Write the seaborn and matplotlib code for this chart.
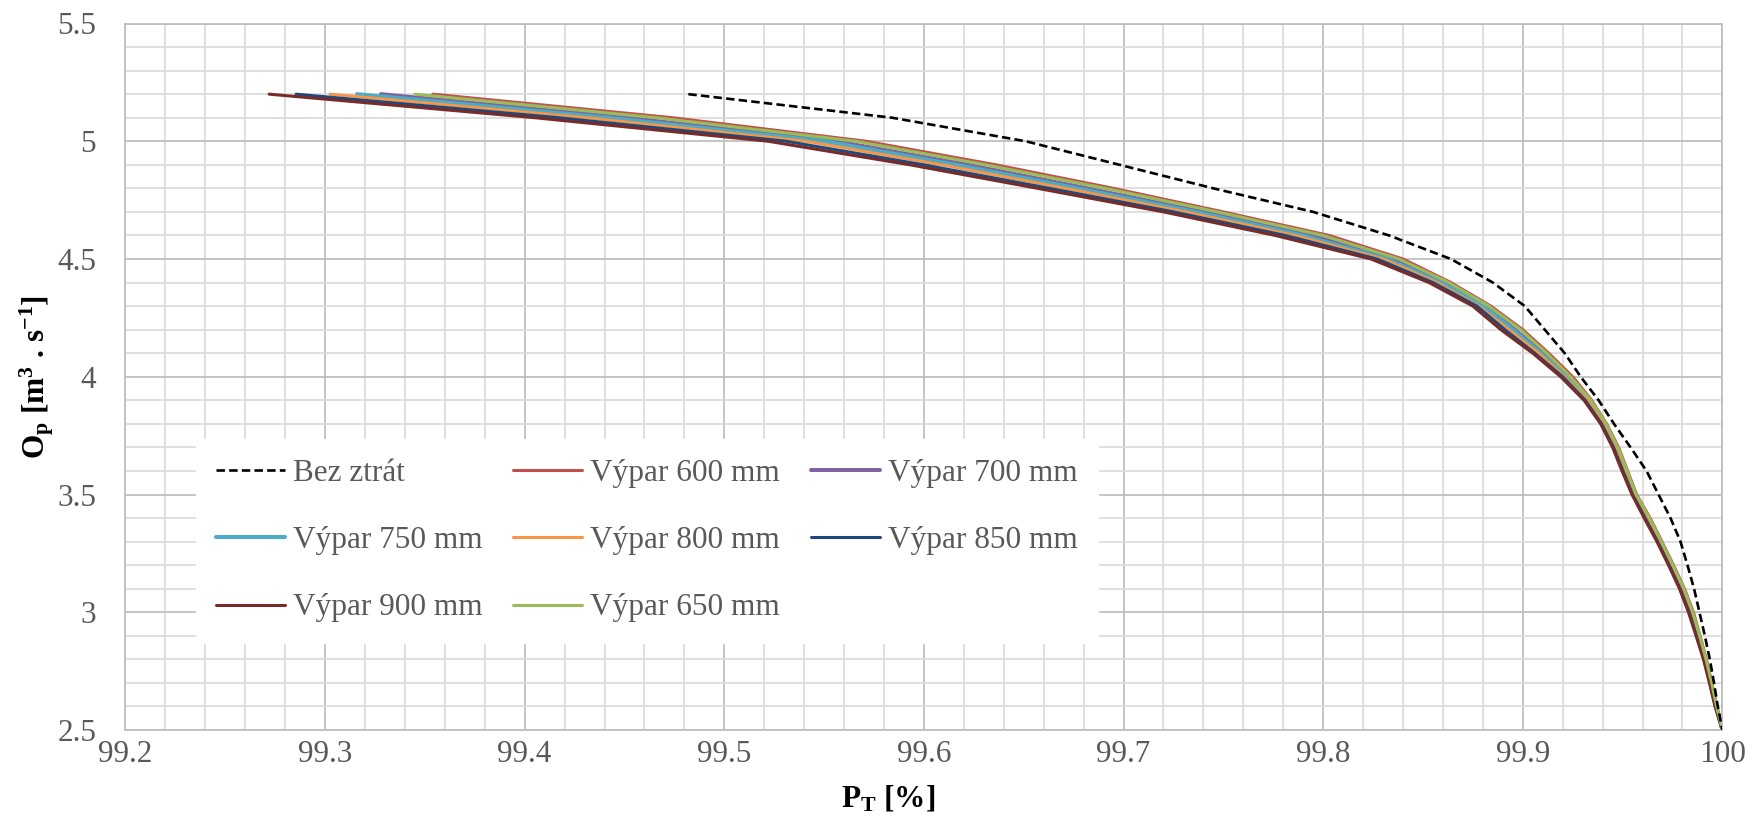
import numpy as np
import pandas as pd
import matplotlib
matplotlib.use("Agg")
import matplotlib.pyplot as plt
from matplotlib.ticker import MultipleLocator, FixedLocator, FixedFormatter
import seaborn as sns

# ---------------- data ----------------
o_levels = [5.2, 5.1, 5.0, 4.9, 4.8, 4.7, 4.6, 4.5, 4.4, 4.3, 4.2, 4.1, 4.0, 3.9,
            3.8, 3.7, 3.6, 3.5, 3.4, 3.3, 3.2, 3.1, 3.0, 2.9, 2.8, 2.7, 2.6, 2.5]

pt_bez = [99.482, 99.584, 99.651, 99.698, 99.745, 99.795, 99.833, 99.864, 99.885, 99.901, 99.911, 99.921, 99.929, 99.938,
          99.9457, 99.954, 99.962, 99.968, 99.974, 99.979, 99.9825, 99.9858, 99.9885, 99.9912, 99.9937, 99.9958, 99.9977, 100.0]
pt_600 = [99.354, 99.474, 99.571, 99.636, 99.695, 99.750, 99.803, 99.840, 99.864, 99.884, 99.900, 99.913, 99.925, 99.9345,
          99.942, 99.948, 99.9525, 99.957, 99.9638, 99.9697, 99.9755, 99.981, 99.9855, 99.9888, 99.992, 99.9947, 99.9972, 100.0]
pt_650 = [99.345, 99.466, 99.566, 99.631, 99.691, 99.747, 99.800, 99.838, 99.863, 99.883, 99.899, 99.912, 99.924, 99.9341,
          99.9417, 99.9477, 99.9522, 99.9567, 99.9635, 99.9694, 99.9752, 99.9807, 99.9852, 99.9886, 99.9918, 99.9946, 99.9971, 100.0]
pt_700 = [99.328, 99.451, 99.556, 99.622, 99.682, 99.740, 99.794, 99.835, 99.860, 99.881, 99.896, 99.910, 99.923, 99.9332,
          99.941, 99.947, 99.9516, 99.9562, 99.9628, 99.9689, 99.9747, 99.9802, 99.9847, 99.9881, 99.9915, 99.9943, 99.9969, 100.0]
pt_750 = [99.316, 99.442, 99.550, 99.616, 99.677, 99.736, 99.790, 99.832, 99.859, 99.880, 99.895, 99.909, 99.922, 99.9327,
          99.9406, 99.9466, 99.9512, 99.9559, 99.9624, 99.9685, 99.9743, 99.9798, 99.9843, 99.9879, 99.9913, 99.9941, 99.9968, 100.0]
pt_800 = [99.3025, 99.431, 99.541, 99.609, 99.671, 99.731, 99.786, 99.830, 99.857, 99.878, 99.893, 99.908, 99.921, 99.9321,
          99.9401, 99.9461, 99.9507, 99.9556, 99.9619, 99.9681, 99.9739, 99.9794, 99.9839, 99.9875, 99.9911, 99.9939, 99.9966, 100.0]
pt_850 = [99.2855, 99.417, 99.531, 99.600, 99.663, 99.725, 99.781, 99.827, 99.855, 99.877, 99.891, 99.906, 99.920, 99.9313,
          99.9395, 99.9455, 99.9502, 99.9551, 99.9613, 99.9676, 99.9734, 99.9789, 99.9834, 99.9871, 99.9908, 99.9937, 99.9965, 100.0]
pt_900 = [99.272, 99.405, 99.522, 99.593, 99.657, 99.720, 99.776, 99.824, 99.853, 99.875, 99.889, 99.905, 99.919, 99.9307,
          99.939, 99.945, 99.9497, 99.9547, 99.9608, 99.9672, 99.973, 99.9785, 99.983, 99.9868, 99.9905, 99.9935, 99.9963, 100.0]

series_names = ["Bez ztrát", "Výpar 600 mm", "Výpar 700 mm", "Výpar 750 mm",
                "Výpar 800 mm", "Výpar 850 mm", "Výpar 900 mm", "Výpar 650 mm"]
series_values = [pt_bez, pt_600, pt_700, pt_750, pt_800, pt_850, pt_900, pt_650]

x_ticks = [99.2, 99.3, 99.4, 99.5, 99.6, 99.7, 99.8, 99.9, 100.0]
x_tick_labels = ["99.2", "99.3", "99.4", "99.5", "99.6", "99.7", "99.8", "99.9", "100"]
y_ticks = [2.5, 3.0, 3.5, 4.0, 4.5, 5.0, 5.5]
y_tick_labels = ["2.5", "3", "3.5", "4", "4.5", "5", "5.5"]

# ---------------- styles ----------------
colors = {"Bez ztrát": "black", "Výpar 600 mm": "#C0504D", "Výpar 700 mm": "#8064A2",
          "Výpar 750 mm": "#4BACC6", "Výpar 800 mm": "#F79646", "Výpar 850 mm": "#1F497D",
          "Výpar 900 mm": "#772C2A", "Výpar 650 mm": "#9BBB59"}
widths = {"Bez ztrát": 1.9, "Výpar 600 mm": 2.2, "Výpar 700 mm": 2.9, "Výpar 750 mm": 2.9,
          "Výpar 800 mm": 2.2, "Výpar 850 mm": 2.2, "Výpar 900 mm": 2.2, "Výpar 650 mm": 2.2}

sns.set_style("white")
plt.rcParams["font.family"] = ["Liberation Serif", "DejaVu Serif"]
plt.rcParams["mathtext.fontset"] = "custom"
plt.rcParams["mathtext.rm"] = "Liberation Serif:bold"
plt.rcParams["mathtext.it"] = "Liberation Serif:bold"
plt.rcParams["mathtext.bf"] = "Liberation Serif:bold"

fig = plt.figure(figsize=(17.56, 8.19), dpi=100)
ax = fig.add_axes([125.4 / 1756, 1 - 730 / 819, 1597 / 1756, 706.5 / 819])

for name, vals in zip(series_names, series_values):
    df = pd.DataFrame({"PT": vals, "Op": o_levels})
    ls = "--" if name == "Bez ztrát" else "-"
    sns.lineplot(data=df, x="PT", y="Op", ax=ax, color=colors[name], lw=widths[name],
                 label=name, sort=False, estimator=None, linestyle=ls)
    ax.lines[-1].set_solid_joinstyle("round")
    if name == "Bez ztrát":
        ax.lines[-1].set_dashes((3.2, 1.6))
        ax.lines[-1].set_zorder(5)

ax.set_xlim(99.2, 100.0)
ax.set_ylim(2.5, 5.5)
ax.xaxis.set_major_locator(FixedLocator(x_ticks))
ax.xaxis.set_major_formatter(FixedFormatter(x_tick_labels))
ax.yaxis.set_major_locator(FixedLocator(y_ticks))
ax.yaxis.set_major_formatter(FixedFormatter(y_tick_labels))
ax.xaxis.set_minor_locator(MultipleLocator(0.02))
ax.yaxis.set_minor_locator(MultipleLocator(0.1))

ax.grid(which="major", color="#BFBFBF", lw=1.3)
ax.grid(which="minor", color="#D9D9D9", lw=1.2)
ax.set_axisbelow(True)
for s in ax.spines.values():
    s.set_color("#BFBFBF")
    s.set_linewidth(1.3)

ax.tick_params(axis="both", which="both", length=0, labelsize=22.5, colors="#595959")
ax.tick_params(axis="y", pad=21)
ax.tick_params(axis="x", pad=7)

ax.set_xlabel(r"P$_{\mathrm{T}}$ [%]", fontsize=22.5, fontweight="bold", color="black")
ax.set_ylabel(r"O$_{\mathrm{p}}$ [m$^{3}$ . s$^{\mathrm{-1}}$]", fontsize=22.5, fontweight="bold", color="black")
ax.xaxis.set_label_coords(0.4775, -0.076)
ax.yaxis.set_label_coords(-0.0435, 0.5)

handles, labels = ax.get_legend_handles_labels()
order = [0, 3, 6, 1, 4, 7, 2, 5]
leg = ax.legend([handles[i] for i in order], [labels[i] for i in order], ncol=3,
                loc="upper left", bbox_to_anchor=(0.044, 0.412), borderaxespad=0,
                fontsize=22.5, frameon=True, fancybox=False, framealpha=1,
                handlelength=2.2, handletextpad=0.25, columnspacing=1.0,
                labelspacing=1.22, borderpad=0.65)
leg.get_frame().set_edgecolor("white")
leg.get_frame().set_facecolor("white")
for t in leg.get_texts():
    t.set_color("#595959")

fig.savefig("out.png", dpi=100)
